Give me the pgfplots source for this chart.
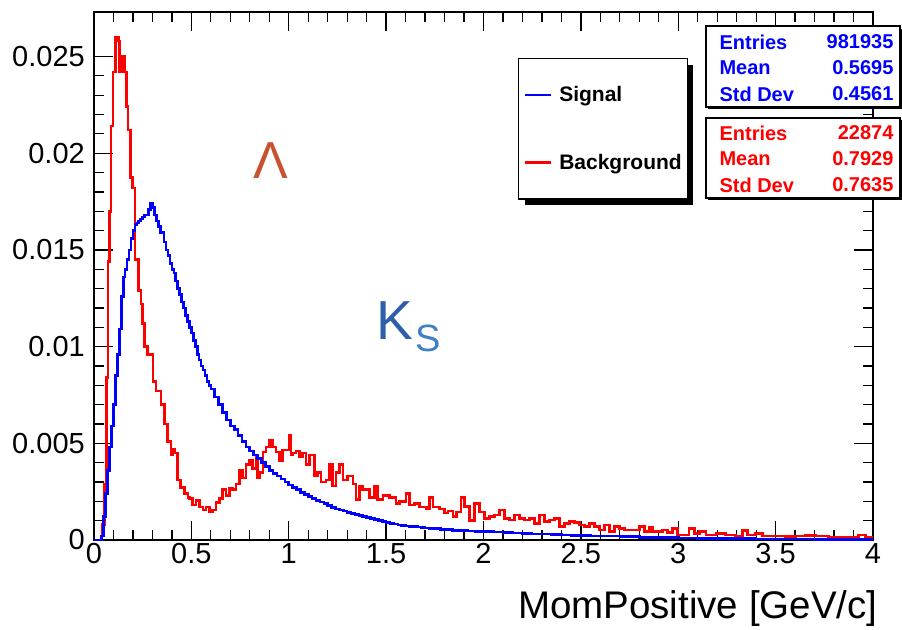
\documentclass[border=0pt]{standalone}
\usepackage{fontspec}
\setmainfont{Liberation Sans}
\usepackage{pgfplots}
\pgfplotsset{compat=1.18}

\definecolor{lamcol}{RGB}{200,82,48}
\definecolor{kcol}{RGB}{46,94,170}
\definecolor{scol}{RGB}{64,128,196}

\begin{document}
\begin{tikzpicture}
\path[use as bounding box] (-94pt,-89pt) rectangle (808pt,540pt);
% legend shadow
\fill[black] (431pt,335pt) rectangle (599pt,475pt);
\begin{axis}[
  name=ax, at={(0pt,0pt)}, anchor=south west,
  scale only axis, width=779pt, height=528pt,
  xmin=0, xmax=4, ymin=0, ymax=27.3,
  axis line style={line width=1.8pt},
  tick align=inside, tick style={black, line width=1.3pt},
  major tick length=19pt, minor tick length=10pt,
  xtick={0,0.5,1,1.5,2,2.5,3,3.5,4},
  xticklabels={0,0.5,1,1.5,2,2.5,3,3.5,4},
  ytick={0,5,10,15,20,25},
  yticklabels={0,0.005,0.01,0.015,0.02,0.025},
  minor x tick num=4, minor y tick num=4,
  /pgf/number format/assume math mode=true,
  tick label style={font=\fontsize{29}{29}\selectfont},
  xticklabel style={inner sep=3pt},
  yticklabel style={inner sep=9pt},
  xlabel={MomPositive [GeV/c]},
  xlabel style={at={(rel axis cs:1,0)}, anchor=base east, yshift=-78pt, xshift=8pt,
    font=\fontsize{38.5}{38.5}\selectfont},
  legend cell align=left,
  legend image code/.code={\draw[#1] (0pt,0pt) -- (26pt,0pt);},
  legend style={at={(0.5443,0.9129)}, anchor=north west, draw=black, line width=1.3pt,
    fill=white, font=\fontsize{21}{21}\selectfont\bfseries,
    nodes={inner sep=1pt}, inner xsep=5pt, inner ysep=27pt, row sep=49pt, column sep=6pt},
]
\addlegendimage{blue, line width=2.6pt}
\addlegendentry{Signal}
\addlegendimage{red, line width=2.6pt}
\addlegendentry{Background}
\addplot[const plot, red, line width=2.6pt, forget plot] coordinates {
(0,0)(0.035,0.2)(0.043,0.8)(0.054,2.9)(0.063,8.4)(0.071,14.4)(0.080,17.0)(0.088,21.4)
(0.097,24.2)(0.109,26.0)(0.126,25.8)(0.131,24.2)(0.136,25.0)(0.146,24.2)(0.152,25.0)
(0.157,24.2)(0.166,22.4)(0.174,21.2)(0.187,18.75)(0.199,18.2)(0.211,14.5)(0.230,12.9)
(0.242,12.2)(0.250,11.2)(0.259,10.0)(0.276,9.6)(0.302,8.2)(0.319,7.7)(0.345,7.0)
(0.362,6.0)(0.376,5.1)(0.396,4.4)(0.405,4.7)(0.413,4.5)(0.430,3.1)(0.444,2.7)
(0.465,2.4)(0.482,2.2)(0.490,2.15)(0.507,1.8)(0.524,2.05)(0.541,1.7)(0.559,1.55)
(0.576,1.7)(0.593,1.45)(0.610,1.55)(0.627,1.95)(0.644,2.15)(0.661,2.6)(0.678,2.3)
(0.695,2.65)(0.712,2.6)(0.730,2.9)(0.747,3.6)(0.764,3.2)(0.781,3.9)(0.798,4.1)
(0.815,3.7)(0.832,4.4)(0.841,3.2)(0.850,3.5)(0.867,4.55)(0.884,4.8)(0.901,5.15)
(0.918,4.8)(0.935,4.55)(0.952,4.1)(0.969,4.65)(0.986,4.65)(1.003,5.4)(1.011,4.4)
(1.020,4.5)(1.037,4.6)(1.055,4.3)(1.072,4.5)(1.089,3.9)(1.106,4.4)(1.132,3.3)
(1.149,3.5)(1.166,3.0)(1.192,3.1)(1.209,3.9)(1.226,2.8)(1.243,3.5)(1.260,3.9)
(1.278,3.1)(1.303,3.3)(1.329,2.9)(1.346,2.1)(1.363,2.8)(1.380,2.6)(1.415,2.2)
(1.440,2.8)(1.457,2.1)(1.483,2.3)(1.517,2.2)(1.551,1.9)(1.569,2.0)(1.603,2.4)
(1.620,1.8)(1.646,1.9)(1.671,1.7)(1.706,1.6)(1.723,2.2)(1.740,1.7)(1.774,1.6)
(1.800,1.4)(1.817,1.5)(1.843,1.2)(1.860,1.45)(1.885,2.2)(1.902,1.72)(1.928,1.0)
(1.954,1.9)(1.979,1.45)(2.005,1.1)(2.031,1.2)(2.056,1.3)(2.082,1.55)(2.108,1.1)
(2.133,1.03)(2.159,1.3)(2.185,1.1)(2.210,1.03)(2.236,1.1)(2.262,0.86)(2.287,1.3)
(2.313,0.95)(2.339,1.03)(2.364,1.1)(2.390,0.69)(2.416,0.86)(2.441,0.95)(2.467,0.9)
(2.493,0.77)(2.518,0.69)(2.544,0.86)(2.570,0.69)(2.595,0.52)(2.621,0.77)(2.647,0.43)
(2.672,0.69)(2.698,0.6)(2.724,0.52)(2.749,0.52)(2.800,0.69)(2.826,0.43)(2.851,0.65)
(2.868,0.43)(2.920,0.52)(2.945,0.38)(2.971,0.6)(2.997,0.26)(3.056,0.6)(3.082,0.34)
(3.108,0.43)(3.142,0.26)(3.193,0.34)(3.244,0.26)(3.295,0.17)(3.329,0.48)(3.355,0.26)
(3.398,0.34)(3.432,0.2)(3.500,0.2)(3.551,0.17)(3.603,0.2)(3.654,0.24)(3.705,0.2)
(3.773,0.14)(3.842,0.14)(3.927,0.26)(3.961,0.14)(4.0,0.14)
};
\addplot[const plot, blue, line width=2.6pt, forget plot] coordinates {
(0,0)(0.040,0.2)(0.050,1.2)(0.060,2.4)(0.070,3.6)(0.080,4.8)(0.090,5.9)(0.100,7.0)
(0.110,8.5)(0.120,9.6)(0.130,10.9)(0.140,12.6)(0.150,13.6)(0.160,14.0)(0.170,14.5)
(0.180,15.0)(0.190,15.6)(0.200,16.0)(0.210,16.3)(0.220,16.4)(0.230,16.5)(0.240,16.6)
(0.250,16.7)(0.260,16.8)(0.270,16.8)(0.280,17.1)(0.290,17.4)(0.300,17.2)(0.310,16.8)
(0.320,16.5)(0.330,16.2)(0.340,15.9)(0.350,15.9)(0.360,15.4)(0.370,15.0)(0.380,14.7)
(0.390,14.3)(0.400,14.0)(0.410,13.8)(0.420,13.4)(0.430,13.0)(0.440,12.7)(0.450,12.3)
(0.460,12.0)(0.470,11.6)(0.480,11.3)(0.490,11.0)(0.500,10.7)(0.510,10.3)(0.520,10.0)
(0.530,9.6)(0.540,9.3)(0.550,9.0)(0.560,8.8)(0.570,8.5)(0.580,8.2)(0.590,8.0)
(0.600,7.8)(0.620,7.4)(0.640,7.0)(0.660,6.6)(0.680,6.2)(0.700,5.9)(0.720,5.7)
(0.740,5.4)(0.760,5.1)(0.780,4.8)(0.800,4.6)(0.820,4.4)(0.840,4.2)(0.860,4.0)
(0.880,3.8)(0.900,3.6)(0.920,3.45)(0.940,3.3)(0.960,3.15)(0.980,3.0)(1.000,2.85)
(1.020,2.7)(1.040,2.6)(1.060,2.45)(1.080,2.35)(1.100,2.25)(1.120,2.15)(1.140,2.05)
(1.160,1.97)(1.180,1.88)(1.200,1.78)(1.220,1.68)(1.240,1.6)(1.260,1.55)(1.280,1.5)
(1.300,1.42)(1.320,1.37)(1.340,1.32)(1.360,1.27)(1.380,1.22)(1.400,1.17)(1.420,1.1)
(1.440,1.05)(1.460,1.0)(1.480,0.95)(1.500,0.9)(1.520,0.86)(1.540,0.82)(1.560,0.78)
(1.580,0.75)(1.600,0.73)(1.620,0.71)(1.640,0.69)(1.660,0.68)(1.680,0.66)(1.700,0.63)
(1.720,0.61)(1.740,0.6)(1.760,0.58)(1.780,0.55)(1.800,0.53)(1.840,0.5)(1.880,0.48)
(1.920,0.46)(1.960,0.45)(2.000,0.44)(2.050,0.41)(2.100,0.38)(2.150,0.36)(2.200,0.34)
(2.250,0.32)(2.300,0.30)(2.350,0.28)(2.400,0.26)(2.450,0.24)(2.500,0.22)(2.550,0.21)
(2.600,0.20)(2.700,0.17)(2.800,0.14)(2.900,0.12)(3.000,0.10)(3.100,0.09)(3.200,0.08)
(3.300,0.07)(3.400,0.06)(3.500,0.05)(3.600,0.045)(3.700,0.04)(3.800,0.035)(3.900,0.03)
(4.0,0.03)
};
\node[text=lamcol, font=\fontsize{52}{52}\selectfont] at (axis cs:0.909,19.6) {Λ};
\node[text=kcol, font=\fontsize{55}{55}\selectfont, anchor=base east, inner sep=0pt] at (axis cs:1.638,10.35) {K};
\node[text=scol, font=\fontsize{38}{38}\selectfont, anchor=base west, inner sep=0pt] at (axis cs:1.648,9.75) {S};
\end{axis}
% stats boxes
\begin{scope}[font=\fontsize{20}{20}\selectfont\bfseries]
\fill[black] (614pt,431pt) rectangle (808pt,511pt);
\draw[line width=1.3pt, fill=white] (612pt,433pt) rectangle (806pt,514pt);
\node[blue, anchor=west] at (622pt,498pt) {Entries};
\node[blue, anchor=east] at (803pt,498pt) {981935};
\node[blue, anchor=west] at (622pt,472pt) {Mean};
\node[blue, anchor=east] at (803pt,472pt) {0.5695};
\node[blue, anchor=west] at (622pt,446pt) {Std Dev};
\node[blue, anchor=east] at (803pt,446pt) {0.4561};
\fill[black] (614pt,340pt) rectangle (808pt,420pt);
\draw[line width=1.3pt, fill=white] (612pt,342pt) rectangle (806pt,422pt);
\node[red, anchor=west] at (622pt,407pt) {Entries};
\node[red, anchor=east] at (803pt,407pt) {22874};
\node[red, anchor=west] at (622pt,381pt) {Mean};
\node[red, anchor=east] at (803pt,381pt) {0.7929};
\node[red, anchor=west] at (622pt,355pt) {Std Dev};
\node[red, anchor=east] at (803pt,355pt) {0.7635};
\end{scope}
\end{tikzpicture}
\end{document}
